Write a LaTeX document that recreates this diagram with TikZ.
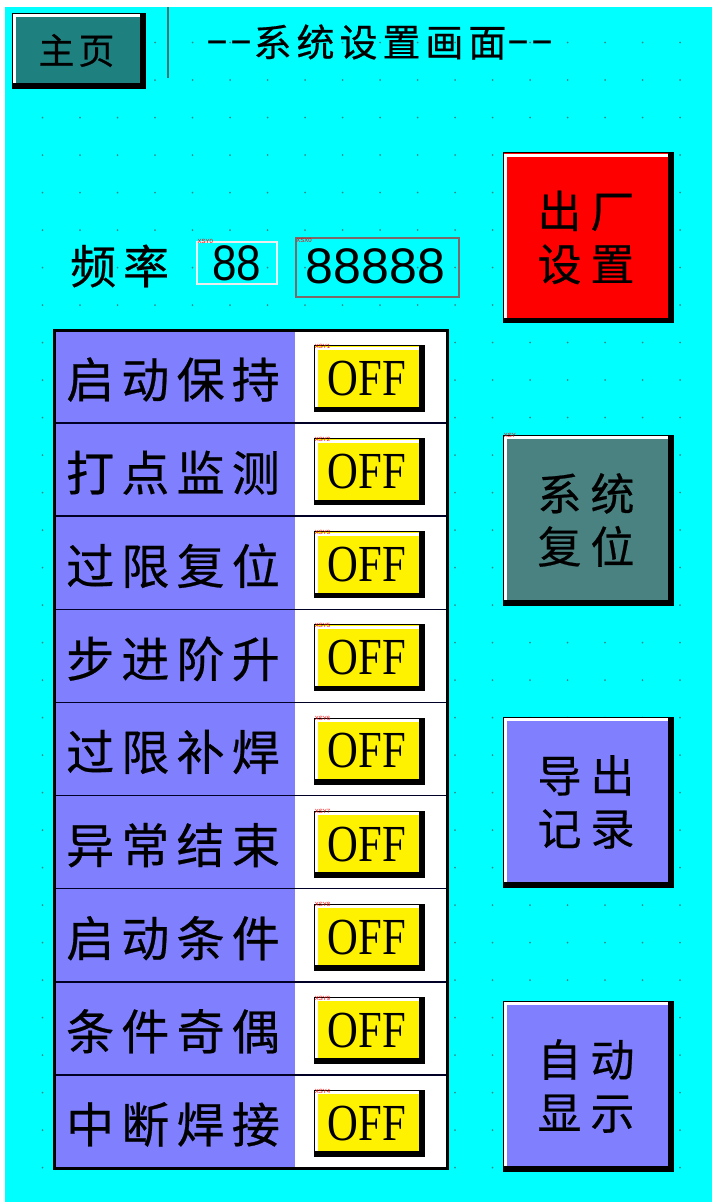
\documentclass[tikz,border=0pt]{standalone}
\usepackage{fontspec}
\newfontfamily\cjk{Noto Sans CJK SC}[FakeBold=0.5]
\newfontfamily\cjksp{Noto Sans CJK SC}[LetterSpace=15,FakeBold=0.5]
\newfontfamily\cjkt{Noto Sans CJK SC}[LetterSpace=13,FakeBold=0.5]
\newfontfamily\rmn{Liberation Serif}
\newfontfamily\ssn{Liberation Sans}
\definecolor{bgcyan}{HTML}{00FFFF}
\definecolor{lav}{HTML}{8080FF}
\definecolor{tealA}{HTML}{1F8080}
\definecolor{tealB}{HTML}{4A8282}
\definecolor{dotc}{HTML}{3A8C8C}
\definecolor{boxgray}{HTML}{7A6A6A}
\newcommand\dsh{{\ssn\raisebox{4pt}{\scalebox{1.9}[1]{-}}}}
\tikzset{
  bevel/.style={draw=black, line width=0.8pt, inner sep=0pt, path picture={
    \fill[white] ([xshift=1pt,yshift=-1pt]path picture bounding box.north west) rectangle ([xshift=-5pt,yshift=-4pt]path picture bounding box.north east);
    \fill[white] ([xshift=1pt,yshift=-1pt]path picture bounding box.north west) rectangle ([xshift=4pt,yshift=5pt]path picture bounding box.south west);
    \fill[black] ([xshift=-5pt]path picture bounding box.north east) rectangle (path picture bounding box.south east);
    \fill[black] (path picture bounding box.south west) rectangle ([yshift=5pt]path picture bounding box.south east);
  }},
  bigbtn/.style={bevel, minimum width=170, minimum height=170, align=center,
    font={\cjk\fontsize{44}{53}\selectfont}},
  offbtn/.style={bevel, fill=yellow, minimum width=110, minimum height=66,
    font={\rmn\fontsize{52}{52}\selectfont}},
  rowlab/.style={anchor=west, inner sep=0pt, font={\cjksp\fontsize{48}{48}\selectfont}},
  tag/.style={anchor=west, inner sep=0pt, text=red, font={\ssn\fontsize{6}{6}\selectfont}},
  digits/.style={inner sep=0pt, font={\ssn\fontsize{50}{50}\selectfont}},
}
\begin{document}
\begin{tikzpicture}[x=1pt,y=-1pt]
\useasboundingbox (0,0) rectangle (712,1202);
\fill[white] (0,0) rectangle (712,1202);
\fill[bgcyan] (5,7) rectangle (712,1202);
% dot grid
\foreach \i in {1,...,18} \foreach \j in {1,...,31}
  \fill[dotc] (5+37.5*\i,5+37.5*\j) circle (1);
% header
\node[bevel, fill=tealA, minimum width=133, minimum height=75,
  font={\cjk\fontsize{36}{36}\selectfont}] (home) at (78.5,50.5) {\hspace*{-4pt}主\hspace{4pt}页};
\draw[line width=2pt, color=boxgray!60!teal] (168,7) -- (168,78);
\node[inner sep=0pt, font={\cjkt\fontsize{38}{38}\selectfont}] (title) at (380,42)
  {\dsh\dsh 系统设置画面\dsh\dsh};
% frequency
\node[rowlab, font={\cjksp\fontsize{46}{46}\selectfont}] (freq) at (70,266) {频率};
\node[draw=white!85!gray, line width=1.2pt, minimum width=80, minimum height=42, inner sep=0pt] (f1) at (237,263) {};
\node[digits] (f1t) at (f1.center) {\scalebox{0.88}[1]{88}};
\node[tag] (f1tag) at ([xshift=1pt]f1.north west) {XSY0};
\node[draw=boxgray, line width=1.5pt, minimum width=163, minimum height=59, inner sep=0pt] (f2) at (377.5,267.5) {};
\node[digits] (f2t) at ([xshift=-2pt,yshift=1pt]f2.center) {88888};
\node[tag] (f2tag) at ([xshift=1pt,yshift=-3pt]f2.north west) {XSX0};
% table
\fill[lav] (54,330) rectangle (295,1168);
\fill[white] (295,330) rectangle (447,1168);
\foreach \k in {1,...,8}
  \draw[line width=1.6pt, color=black!85!blue] (54,330+93.11*\k) -- (447,330+93.11*\k);
\node[draw=black, line width=3pt, minimum width=393, minimum height=838, inner sep=0pt] (table) at (250.5,749) {};
\foreach \t/\g [count=\k] in {启动保持/XSY1, 打点监测/XSY2, 过限复位/XSY3, 步进阶升/XSY5,
    过限补焊/XSY6, 异常结束/XSY7, 启动条件/XSY8, 条件奇偶/XSY9, 中断焊接/XSY4} {
  \node[rowlab] (r\k) at (66,330+93.11*\k-46.55+3) {\t};
  \node[offbtn] (b\k) at (369,330+93.11*\k-46.55+2) {\hspace*{-4pt}\scalebox{0.82}[1]{OFF}};
  \node[tag] (t\k) at ([xshift=1pt,yshift=-1pt]b\k.north west) {\g};
}
% right buttons
\node[bigbtn, fill=red] (factory) at (588,237.5) {\hspace*{-4pt}出\hspace{9pt}厂\\\hspace*{-4pt}设\hspace{9pt}置};
\node[bigbtn, fill=tealB] (reset) at (588,520) {\hspace*{-4pt}系\hspace{9pt}统\\\hspace*{-4pt}复\hspace{9pt}位};
\node[tag] (resettag) at ([xshift=1pt,yshift=-1pt]reset.north west) {XSY};
\node[bigbtn, fill=lav] (export) at (588,802) {\hspace*{-4pt}导\hspace{9pt}出\\\hspace*{-4pt}记\hspace{9pt}录};
\node[bigbtn, fill=lav] (auto) at (588,1086) {\hspace*{-4pt}自\hspace{9pt}动\\\hspace*{-4pt}显\hspace{9pt}示};
\end{tikzpicture}
\end{document}
